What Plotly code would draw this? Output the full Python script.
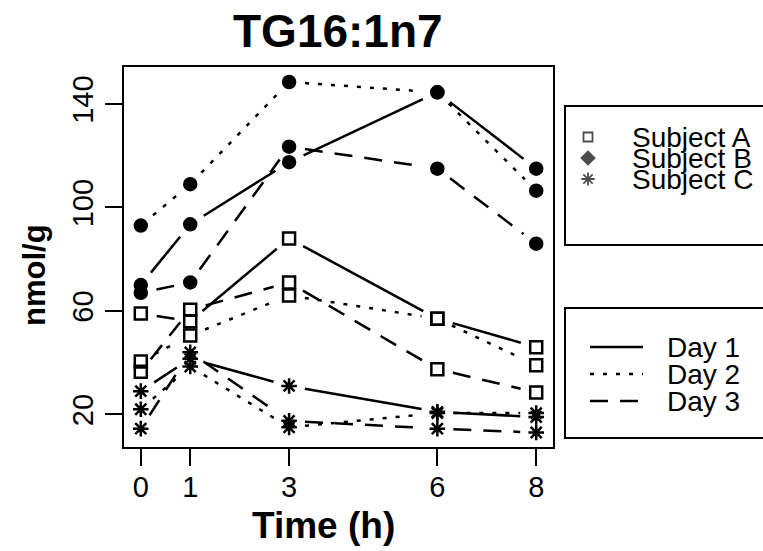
import math
import plotly.graph_objects as go

# ---------------- data ----------------
time_h = [0, 1, 3, 6, 8]

a_day1 = [59, 56, 88, 57, 46]
a_day2 = [40.5, 50.5, 66, 57, 39]
a_day3 = [36.5, 60.5, 71, 37.5, 28.5]

b_day1 = [70, 93.5, 117.5, 144.5, 115]
b_day2 = [93, 109, 148.5, 144.5, 106.5]
b_day3 = [67, 71, 123.5, 115, 86]

c_day1 = [29, 41.5, 31, 21, 19]
c_day2 = [22, 38.5, 15, 20.5, 20.5]
c_day3 = [14.5, 44, 17.5, 14.5, 13]

y_ticks = [20, 60, 100, 140]
subject_labels = ["Subject A", "Subject B", "Subject C"]
day_labels = ["Day 1", "Day 2", "Day 3"]
title_text = "TG16:1n7"
x_title = "Time (h)"
y_title = "nmol/g"

# ---------------- styling ----------------
W, H = 763, 551
FONT = "Liberation Sans, Arial, sans-serif"
LW = 2.5
DASH = {"Day 1": "solid", "Day 2": "4px,9px", "Day 3": "18px,12px"}
X_RANGE = [-0.34, 8.34]
Y_RANGE = [7.4, 154.3]
PLOT_L, PLOT_R, PLOT_T, PLOT_B = 124, 553, 67, 447
X_DOM = [PLOT_L / W, PLOT_R / W]
Y_DOM = [1 - PLOT_B / H, 1 - PLOT_T / H]
GAP = 16  # px gap left around each point (like R type="b")

PX_X = (PLOT_R - PLOT_L) / (X_RANGE[1] - X_RANGE[0])
PX_Y = (PLOT_B - PLOT_T) / (Y_RANGE[1] - Y_RANGE[0])


def gapped(xs, ys):
    """Split a polyline into segments that stop short of each point."""
    gx, gy = [], []
    for i in range(len(xs) - 1):
        ddx, ddy = xs[i + 1] - xs[i], ys[i + 1] - ys[i]
        length = math.hypot(ddx * PX_X, ddy * PX_Y)
        if length <= 2 * GAP:
            continue
        f = GAP / length
        gx += [xs[i] + f * ddx, xs[i + 1] - f * ddx, None]
        gy += [ys[i] + f * ddy, ys[i + 1] - f * ddy, None]
    return gx, gy


subjects = {
    "Subject A": dict(days=[a_day1, a_day2, a_day3], symbol="square-open", size=12),
    "Subject B": dict(days=[b_day1, b_day2, b_day3], symbol="circle", size=12),
    "Subject C": dict(days=[c_day1, c_day2, c_day3], symbol="asterisk-open", size=13),
}

fig = go.Figure()

# lines with gaps around points
for sname, s in subjects.items():
    for dname, vals in zip(day_labels, s["days"]):
        gx, gy = gapped(time_h, vals)
        fig.add_trace(go.Scatter(
            x=gx, y=gy, mode="lines", connectgaps=False,
            line=dict(color="black", width=LW, dash=DASH[dname]),
            showlegend=False, hoverinfo="skip",
            name=f"{sname} {dname}"))

# markers
for sname, s in subjects.items():
    for dname, vals in zip(day_labels, s["days"]):
        fig.add_trace(go.Scatter(
            x=time_h, y=vals, mode="markers",
            marker=dict(symbol=s["symbol"], size=s["size"], color="black",
                        line=dict(color="black", width=2.5)),
            showlegend=False, name=f"{sname} {dname}"))

# ---------------- legends (pixel overlay axes) ----------------
leg1_rows = [137, 158, 179]
leg1_symbols = ["square-open", "diamond", "asterisk-open"]
leg1_sizes = [9, 10, 11]
fig.add_trace(go.Scatter(
    x=[588] * 3, y=leg1_rows, mode="markers", xaxis="x2", yaxis="y2",
    marker=dict(symbol=leg1_symbols, size=leg1_sizes, color="black",
                line=dict(color="black", width=1.8)),
    showlegend=False, hoverinfo="skip"))

leg2_rows = [347, 374, 401]
for dname, yy in zip(day_labels, leg2_rows):
    fig.add_trace(go.Scatter(
        x=[590, 643], y=[yy, yy], mode="lines", xaxis="x2", yaxis="y2",
        line=dict(color="black", width=LW, dash=DASH[dname]),
        showlegend=False, hoverinfo="skip"))

shapes = [
    dict(type="rect", xref="x2", yref="y2", x0=565, x1=766, y0=106, y1=245,
         line=dict(color="black", width=2)),
    dict(type="rect", xref="x2", yref="y2", x0=565, x1=766, y0=308, y1=438,
         line=dict(color="black", width=2)),
]

annotations = []
for lab, yy in zip(subject_labels, leg1_rows):
    annotations.append(dict(x=630, y=yy, xref="x2", yref="y2", text=lab,
                            showarrow=False, xanchor="left", yanchor="middle",
                            font=dict(family=FONT, size=28, color="black")))
for lab, yy in zip(day_labels, leg2_rows):
    annotations.append(dict(x=665, y=yy, xref="x2", yref="y2", text=lab,
                            showarrow=False, xanchor="left", yanchor="middle",
                            font=dict(family=FONT, size=28, color="black")))

annotations.append(dict(x=338, y=31, xref="x2", yref="y2", text=f"<b>{title_text}</b>",
                        showarrow=False, xanchor="center", yanchor="middle",
                        font=dict(family=FONT, size=46, color="black")))
annotations.append(dict(x=323, y=525, xref="x2", yref="y2", text=f"<b>{x_title}</b>",
                        showarrow=False, xanchor="center", yanchor="middle",
                        font=dict(family=FONT, size=37, color="black")))
annotations.append(dict(x=34, y=275, xref="x2", yref="y2", text=f"<b>{y_title}</b>",
                        showarrow=False, xanchor="center", yanchor="middle", textangle=-90,
                        font=dict(family=FONT, size=31, color="black")))

axis_common = dict(showline=True, linewidth=2, linecolor="black", mirror=True,
                   ticks="outside", ticklen=17, tickwidth=2, tickcolor="black",
                   showgrid=False, zeroline=False, automargin=False,
                   tickfont=dict(family=FONT, size=29, color="black"))

fig.update_layout(
    width=W, height=H,
    margin=dict(l=0, r=0, t=0, b=0),
    paper_bgcolor="white", plot_bgcolor="rgba(0,0,0,0)",
    showlegend=False,
    xaxis=dict(domain=X_DOM, range=X_RANGE, ticklabelstandoff=-4,
               tickvals=time_h, ticktext=[str(t) for t in time_h], **axis_common),
    yaxis=dict(domain=Y_DOM, range=Y_RANGE,
               tickvals=y_ticks, tickangle=-90, **axis_common),
    xaxis2=dict(domain=[0, 1], range=[0, W], visible=False, anchor="y2", fixedrange=True),
    yaxis2=dict(domain=[0, 1], range=[H, 0], visible=False, anchor="x2", fixedrange=True),
    shapes=shapes,
    annotations=annotations,
)

fig.write_html("out.html", config={"displayModeBar": False},
               post_script="document.body.style.margin='0';document.body.style.overflow='hidden';")
